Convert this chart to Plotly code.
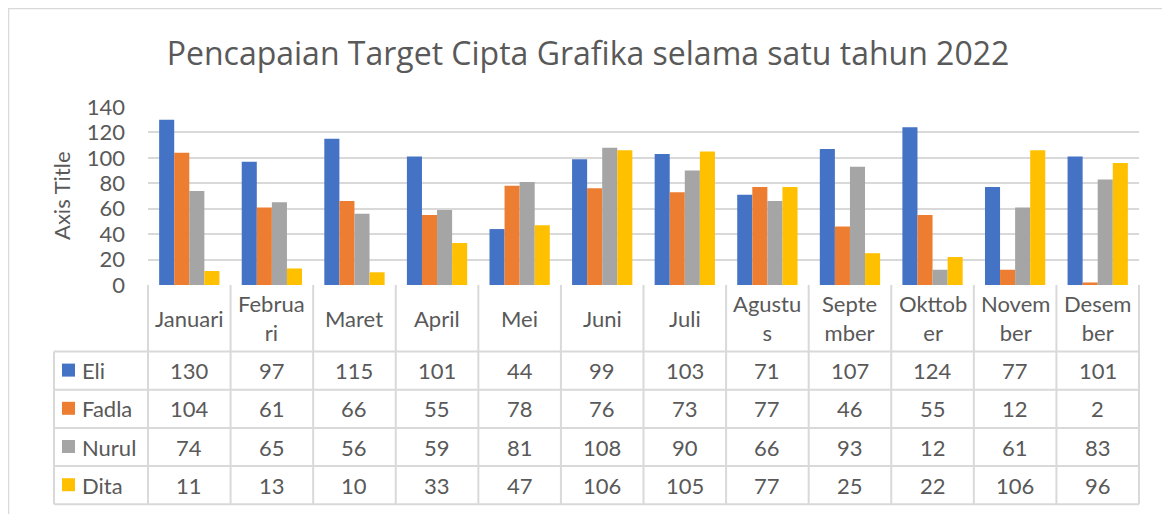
import plotly.graph_objects as go

months = ["Januari", "Februari", "Maret", "April", "Mei", "Juni", "Juli",
          "Agustus", "September", "Okttober", "November", "Desember"]
month_labels = ["Januari", "Februa<br>ri", "Maret", "April", "Mei", "Juni", "Juli",
                "Agustu<br>s", "Septe<br>mber", "Okttob<br>er", "Novem<br>ber", "Desem<br>ber"]
series_names = ["Eli", "Fadla", "Nurul", "Dita"]
eli = [130, 97, 115, 101, 44, 99, 103, 71, 107, 124, 77, 101]
fadla = [104, 61, 66, 55, 78, 76, 73, 77, 46, 55, 12, 2]
nurul = [74, 65, 56, 59, 81, 108, 90, 66, 93, 12, 61, 83]
dita = [11, 13, 10, 33, 47, 106, 105, 77, 25, 22, 106, 96]
colors = ["#4472C4", "#ED7D31", "#A5A5A5", "#FFC000"]
y_ticks = [0, 20, 40, 60, 80, 100, 120, 140]

OFF = 8  # page body margin
W, H = 1170 - OFF, 514 - OFF
ml, mr, mt, mb = 148 - OFF, 31, 107 - OFF, 229
pw = W - ml - mr
ph = H - mt - mb
FONT = "Lato"
TXT = "#595959"
GRID = "#D9D9D9"
FS = 22

fig = go.Figure()
for name, vals, c in zip(series_names, [eli, fadla, nurul, dita], colors):
    fig.add_trace(go.Bar(x=months, y=vals, name=name, marker=dict(color=c, line=dict(width=0)),
                         showlegend=False))

def px_x(px):
    return (px - OFF - ml) / pw

def px_y(py):
    return (H - mb - (py - OFF)) / ph

shapes = []
annotations = []
n = len(months)
colw = 1.0 / n
row_top = 285
head_bottom = 351.5
row_h = 38.2
leg_left = 54
for i in range(n + 1):
    x = i * colw
    shapes.append(dict(type="line", xref="paper", yref="paper", x0=x, x1=x,
                       y0=px_y(row_top), y1=px_y(head_bottom + 4 * row_h),
                       line=dict(color=GRID, width=2)))
shapes.append(dict(type="line", xref="paper", yref="paper", x0=px_x(leg_left), x1=px_x(leg_left),
                   y0=px_y(head_bottom), y1=px_y(head_bottom + 4 * row_h),
                   line=dict(color=GRID, width=2)))
for r in range(5):
    y = head_bottom + r * row_h
    shapes.append(dict(type="line", xref="paper", yref="paper", x0=px_x(leg_left), x1=1,
                       y0=px_y(y), y1=px_y(y), line=dict(color=GRID, width=2)))
shapes.append(dict(type="rect", xref="paper", yref="paper", x0=px_x(8.5), x1=px_x(1168),
                   y0=px_y(530), y1=px_y(8.5), line=dict(color="#D9D9D9", width=1.5)))

for i, lab in enumerate(month_labels):
    annotations.append(dict(xref="paper", yref="paper", x=(i + 0.5) * colw,
                            y=px_y((row_top + head_bottom) / 2), text=lab, showarrow=False,
                            font=dict(family=FONT, size=FS, color=TXT), xanchor="center",
                            yanchor="middle", align="center"))
for r, (name, vals, c) in enumerate(zip(series_names, [eli, fadla, nurul, dita], colors)):
    yc = head_bottom + (r + 0.5) * row_h
    shapes.append(dict(type="rect", xref="paper", yref="paper", x0=px_x(62), x1=px_x(75),
                       y0=px_y(yc - 7), y1=px_y(yc + 6), fillcolor=c, line=dict(width=0)))
    annotations.append(dict(xref="paper", yref="paper", x=px_x(80), y=px_y(yc), text=name,
                            showarrow=False, xanchor="left", yanchor="middle",
                            font=dict(family=FONT, size=FS, color=TXT)))
    for i, v in enumerate(vals):
        annotations.append(dict(xref="paper", yref="paper", x=(i + 0.5) * colw, y=px_y(yc),
                                text=str(v), showarrow=False, xanchor="center", yanchor="middle",
                                font=dict(family=FONT, size=FS, color=TXT)))

annotations.append(dict(xref="paper", yref="paper", x=px_x(61), y=px_y(196), text="Axis Title",
                        textangle=-90, showarrow=False, xanchor="center", yanchor="middle",
                        font=dict(family=FONT, size=FS, color=TXT)))

fig.update_layout(
    width=W, height=H,
    margin=dict(l=ml, r=mr, t=mt, b=mb),
    paper_bgcolor="white", plot_bgcolor="white",
    barmode="group", bargap=0.27, bargroupgap=0,
    title=dict(text="Pencapaian Target Cipta Grafika selama satu tahun 2022",
               x=(588 - OFF) / W, xref="container", xanchor="center",
               y=1 - (54 - OFF) / H, yanchor="middle", yref="container",
               font=dict(family="Open Sans", size=32, color=TXT)),
    xaxis=dict(showticklabels=False, showgrid=False, zeroline=False, showline=False, ticks=""),
    yaxis=dict(range=[0, 140], tickvals=y_ticks, showgrid=True, gridcolor=GRID, gridwidth=2,
               zeroline=False, showline=False, ticks="", ticklabelstandoff=22,
               tickfont=dict(family=FONT, size=FS, color=TXT)),
    shapes=shapes, annotations=annotations,
)
fig.write_html("out.html")
